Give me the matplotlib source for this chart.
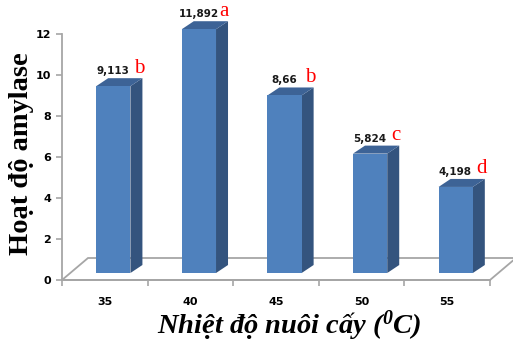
"""
Amylase activity vs. culture temperature — Excel-style 3D column chart.
Writes out.png.
"""

import matplotlib
matplotlib.use("Agg")
import matplotlib.pyplot as plt
from matplotlib.patches import Polygon

# data
temps = ["35", "40", "45", "50", "55"]
activity = [9.113, 11.892, 8.66, 5.824, 4.198]
groups = ["b", "a", "b", "c", "d"]
y_ticks = [0, 2, 4, 6, 8, 10, 12]

FRONT = "#4f81bd"
SIDE = "#34547e"
TOP = "#3d6396"
GRID = "#a6a6a6"

plt.rcParams["mathtext.fontset"] = "custom"
plt.rcParams["mathtext.rm"] = "Liberation Serif:italic:bold"
plt.rcParams["mathtext.it"] = "Liberation Serif:italic:bold"

W, H, DPI = 513, 346, 100
fig = plt.figure(figsize=(W / DPI, H / DPI), dpi=DPI)
ax = fig.add_axes([62 / W, (H - 280) / H, (490 - 62) / W, (280 - 34) / H])
ax.set_xlim(0, len(temps))
ax.set_ylim(0, 12)

# pixel -> data unit scale
p = ax.transData.transform([(0, 0), (1, 1)])
sx, sy = p[1] - p[0]


def px(dx, dy):
    return dx / sx, dy / sy


# floor of the 3D plot area
fdx, fdy = px(26, 22)
n = len(temps)
floor = Polygon([(0, 0), (n, 0), (n + fdx, fdy), (fdx, fdy)], closed=True,
                facecolor="white", edgecolor=GRID, lw=1.3, clip_on=False,
                zorder=1)
ax.add_patch(floor)

# columns: front face sits a bit back from the front floor edge
bdx, bdy = px(8.5, 7)
ddx, ddy = px(12, 8)
width = 0.4
xs = [i + 0.5 for i in range(n)]
for x, v, g in zip(xs, activity, groups):
    x0 = x - width / 2 + bdx
    x1 = x0 + width
    y0 = bdy
    y1 = bdy + v
    ax.add_patch(Polygon([(x1, y0), (x1, y1), (x1 + ddx, y1 + ddy),
                          (x1 + ddx, y0 + ddy)], closed=True,
                         facecolor=SIDE, edgecolor="none", zorder=2,
                         clip_on=False))
    ax.add_patch(Polygon([(x0, y1), (x1, y1), (x1 + ddx, y1 + ddy),
                          (x0 + ddx, y1 + ddy)], closed=True,
                         facecolor=TOP, edgecolor="none", zorder=2,
                         clip_on=False))
    ax.bar(x0, v, bottom=y0, width=width, align="edge", color=FRONT,
           zorder=3, clip_on=False)

    label = f"{v:g}".replace(".", ",")
    lx, ly = px(8, 15)
    ax.text(x + lx, y1 + ly, label, ha="center", va="center",
            fontsize=7.5, fontweight="bold", color="#1a1a1a",
            family="DejaVu Sans", zorder=4, clip_on=False)
    gx, gy = px(34, 18)
    ax.text(x + gx, y1 + gy, g, ha="center", va="center", fontsize=15,
            color="red", family="Liberation Serif", zorder=4, clip_on=False)

# axes styling
for s in ("top", "right"):
    ax.spines[s].set_visible(False)
ax.spines["left"].set_color(GRID)
ax.spines["left"].set_linewidth(1.3)
ax.spines["bottom"].set_color(GRID)
ax.spines["bottom"].set_linewidth(1.3)
ax.patch.set_visible(False)

ax.set_yticks(y_ticks)
ax.set_yticklabels([str(t) for t in y_ticks])
ax.tick_params(axis="y", length=4, width=1.2, color=GRID, pad=4,
               labelsize=8)
ax.set_xticks(range(n + 1))
ax.set_xticklabels([])
ax.set_xticks(xs, minor=True)
ax.set_xticklabels(temps, minor=True)
ax.tick_params(axis="x", which="major", length=4, width=1.2, color=GRID)
ax.tick_params(axis="x", which="minor", length=0, pad=12, labelsize=8)
for lab in ax.get_yticklabels() + ax.get_xticklabels(minor=True):
    lab.set_fontweight("bold")

fig.text(22 / W, 1 - 154 / H, "Hoạt độ amylase", rotation=90, ha="center",
         va="center", fontsize=20.5, fontweight="bold",
         family="Liberation Serif")
fig.text(289 / W, 1 - 326 / H, r"Nhiệt độ nuôi cấy ($^{0}$C)", ha="center",
         va="center", fontsize=20.5, fontweight="bold", style="italic",
         family="Liberation Serif")

fig.savefig("out.png", dpi=DPI)
